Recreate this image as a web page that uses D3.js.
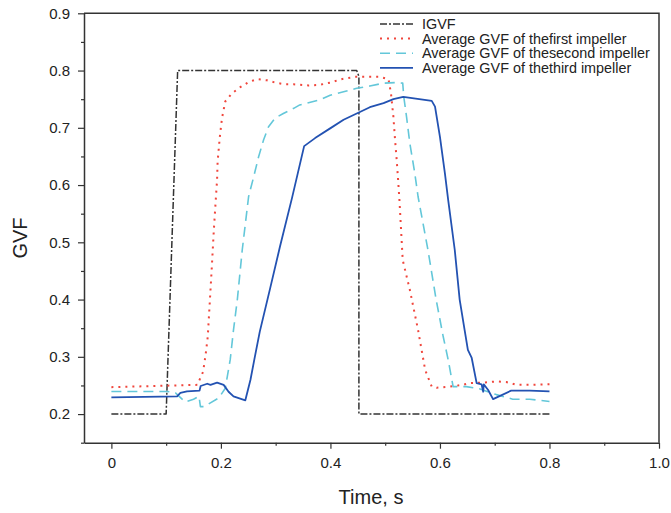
<!DOCTYPE html>
<html>
<head>
<meta charset="utf-8">
<script src="https://cdn.jsdelivr.net/npm/d3@7"></script>
<style>
  body { margin: 0; background: #fff; }
  svg { font-family: "Liberation Sans", Arial, sans-serif; }
</style>
</head>
<body>
<div id="chart"></div>
<script>
// chart data
const igvfT = [0, 0.1, 0.121, 0.448, 0.452, 0.452, 0.8];
const igvfV = [0.2, 0.2, 0.8, 0.8, 0.79, 0.2, 0.2];

const firstT = [0, 0.157, 0.1675, 0.172, 0.176, 0.183, 0.187, 0.191, 0.193, 0.194, 0.198, 0.202, 0.208, 0.22, 0.2355,
  0.251, 0.266, 0.284, 0.299, 0.317, 0.333, 0.36, 0.38, 0.4, 0.42, 0.445, 0.49, 0.506, 0.5106, 0.515, 0.518, 0.521,
  0.524, 0.526, 0.532, 0.545, 0.56, 0.573, 0.585, 0.594, 0.618, 0.642, 0.654, 0.679, 0.703, 0.721, 0.74, 0.764, 0.8];
const firstV = [0.247, 0.251, 0.274, 0.303, 0.335, 0.45, 0.52, 0.58, 0.609, 0.641, 0.684, 0.717, 0.746, 0.76, 0.771,
  0.78, 0.785, 0.783, 0.779, 0.776, 0.776, 0.774, 0.775, 0.779, 0.785, 0.789, 0.789, 0.785, 0.76, 0.719, 0.679, 0.644,
  0.603, 0.574, 0.469, 0.417, 0.347, 0.277, 0.248, 0.246, 0.248, 0.251, 0.254, 0.255, 0.257, 0.256, 0.251, 0.251, 0.252];

const secondT = [0, 0.102, 0.117, 0.135, 0.15, 0.16, 0.1626, 0.169, 0.196, 0.208, 0.217, 0.223, 0.23, 0.239, 0.2506,
  0.26, 0.269, 0.278, 0.287, 0.299, 0.314, 0.333, 0.344, 0.381, 0.3995, 0.424, 0.448, 0.472, 0.497, 0.521, 0.532,
  0.534, 0.539, 0.545, 0.554, 0.56, 0.578, 0.593, 0.606, 0.615, 0.624, 0.648, 0.673, 0.703, 0.733, 0.764, 0.8];
const secondV = [0.2395, 0.2395, 0.237, 0.221, 0.226, 0.231, 0.213, 0.213, 0.228, 0.245, 0.295, 0.347, 0.4, 0.487, 0.58,
  0.615, 0.65, 0.679, 0.702, 0.717, 0.725, 0.734, 0.74, 0.749, 0.757, 0.763, 0.769, 0.773, 0.778, 0.779, 0.778,
  0.754, 0.719, 0.673, 0.621, 0.58, 0.487, 0.4, 0.335, 0.295, 0.248, 0.248, 0.244, 0.234, 0.226, 0.226, 0.222];

const thirdT = [0, 0.12, 0.126, 0.138, 0.161, 0.163, 0.175, 0.181, 0.193, 0.205, 0.214, 0.223, 0.2446, 0.254, 0.261,
  0.271, 0.29, 0.308, 0.33, 0.352, 0.372, 0.3995, 0.424, 0.448, 0.472, 0.497, 0.515, 0.533, 0.585, 0.591, 0.6, 0.609,
  0.615, 0.627, 0.636, 0.645, 0.651, 0.658, 0.667, 0.676, 0.679, 0.68, 0.688, 0.697, 0.73, 0.764, 0.8];
const thirdV = [0.229, 0.231, 0.237, 0.2395, 0.241, 0.249, 0.253, 0.251, 0.255, 0.251, 0.239, 0.231, 0.224, 0.26, 0.295,
  0.344, 0.42, 0.493, 0.578, 0.668, 0.682, 0.699, 0.714, 0.725, 0.736, 0.743, 0.75, 0.754, 0.747, 0.737, 0.684, 0.621,
  0.574, 0.487, 0.4, 0.347, 0.312, 0.298, 0.254, 0.252, 0.239, 0.252, 0.242, 0.226, 0.241, 0.241, 0.2395];

const seriesNames = ["IGVF", "Average GVF of thefirst impeller", "Average GVF of thesecond impeller", "Average GVF of thethird impeller"];
const xTicks = [0, 0.2, 0.4, 0.6, 0.8, 1.0];
const xTickLabels = ["0", "0.2", "0.4", "0.6", "0.8", "1.0"];
const yTicks = [0.2, 0.3, 0.4, 0.5, 0.6, 0.7, 0.8, 0.9];

const ctx = { w: 671, h: 513, left: 84, right: 659, top: 13.3, bottom: 442.7 };

const styles = [
  { color: "#333333", width: 1.5, dash: "7,2,2,2" },
  { color: "#f0463c", width: 2, dash: "2,5" },
  { color: "#63c7d9", width: 1.6, dash: "10,6" },
  { color: "#2352b2", width: 1.8, dash: null }
];

function createViz() {
  const svg = d3.select("#chart").append("svg")
    .attr("width", ctx.w)
    .attr("height", ctx.h);

  const x = d3.scaleLinear().domain([-0.05, 1.0]).range([ctx.left, ctx.right]);
  const y = d3.scaleLinear().domain([0.15, 0.9]).range([ctx.bottom, ctx.top]);

  // minor ticks
  const xMinor = d3.range(-0.0, 1.01, 0.1).filter(v => Math.round(v * 10) % 2 === 1);
  const yMinor = d3.range(0.15, 0.9, 0.1);

  svg.append("g")
    .attr("transform", `translate(0,${ctx.bottom})`)
    .call(d3.axisBottom(x).tickValues(xMinor).tickSize(3).tickFormat(""))
    .call(g => g.select(".domain").remove())
    .selectAll("line").attr("stroke", "#333").attr("stroke-width", 1.2);

  svg.append("g")
    .attr("transform", `translate(${ctx.left},0)`)
    .call(d3.axisLeft(y).tickValues(yMinor).tickSize(3).tickFormat(""))
    .call(g => g.select(".domain").remove())
    .selectAll("line").attr("stroke", "#333").attr("stroke-width", 1.2);

  // major axes
  const xAxis = svg.append("g")
    .attr("transform", `translate(0,${ctx.bottom})`)
    .call(d3.axisBottom(x).tickValues(xTicks).tickSize(6).tickSizeOuter(0).tickPadding(9)
      .tickFormat((d, i) => xTickLabels[i]));

  const yAxis = svg.append("g")
    .attr("transform", `translate(${ctx.left},0)`)
    .call(d3.axisLeft(y).tickValues(yTicks).tickSize(6).tickSizeOuter(0).tickPadding(8)
      .tickFormat(d3.format(".1f")));

  [xAxis, yAxis].forEach(g => {
    g.select(".domain").attr("stroke", "#333").attr("stroke-width", 1.5);
    g.selectAll(".tick line").attr("stroke", "#333").attr("stroke-width", 1.2);
    g.selectAll(".tick text").attr("fill", "#222").style("font-size", "15px")
      .style("font-family", "'Liberation Sans', Arial, sans-serif");
  });

  // frame top and right
  svg.append("path")
    .attr("d", `M${ctx.left},${ctx.top}H${ctx.right}V${ctx.bottom}`)
    .attr("fill", "none")
    .attr("stroke", "#333")
    .attr("stroke-width", 1.5);

  // axis titles
  svg.append("text")
    .attr("transform", "translate(27,238) rotate(-90)")
    .attr("text-anchor", "middle")
    .attr("fill", "#222")
    .style("font-size", "20px")
    .text("GVF");

  svg.append("text")
    .attr("x", 371)
    .attr("y", 504)
    .attr("text-anchor", "middle")
    .attr("fill", "#222")
    .style("font-size", "20px")
    .text("Time, s");

  // lines
  const line = d3.line().x(d => x(d[0])).y(d => y(d[1]));
  const series = [[igvfT, igvfV], [firstT, firstV], [secondT, secondV], [thirdT, thirdV]];

  series.forEach(([ts, vs], i) => {
    const pts = ts.map((t, j) => [t, vs[j]]);
    svg.append("path")
      .datum(pts)
      .attr("fill", "none")
      .attr("stroke", styles[i].color)
      .attr("stroke-width", styles[i].width)
      .attr("stroke-dasharray", styles[i].dash)
      .attr("stroke-linejoin", "round")
      .attr("d", line);
  });

  // legend
  const legend = svg.append("g").attr("transform", "translate(380,24)");
  seriesNames.forEach((name, i) => {
    const row = legend.append("g").attr("transform", `translate(0,${i * 14.6})`);
    row.append("line")
      .attr("x1", 0).attr("x2", 33)
      .attr("stroke", styles[i].color)
      .attr("stroke-width", styles[i].width)
      .attr("stroke-dasharray", styles[i].dash);
    row.append("text")
      .attr("x", 42)
      .attr("dy", "0.35em")
      .attr("fill", "#222")
      .style("font-size", "14.4px")
      .text(name);
  });
}

document.addEventListener("DOMContentLoaded", function () {
  createViz();
});
</script>
</body>
</html>
